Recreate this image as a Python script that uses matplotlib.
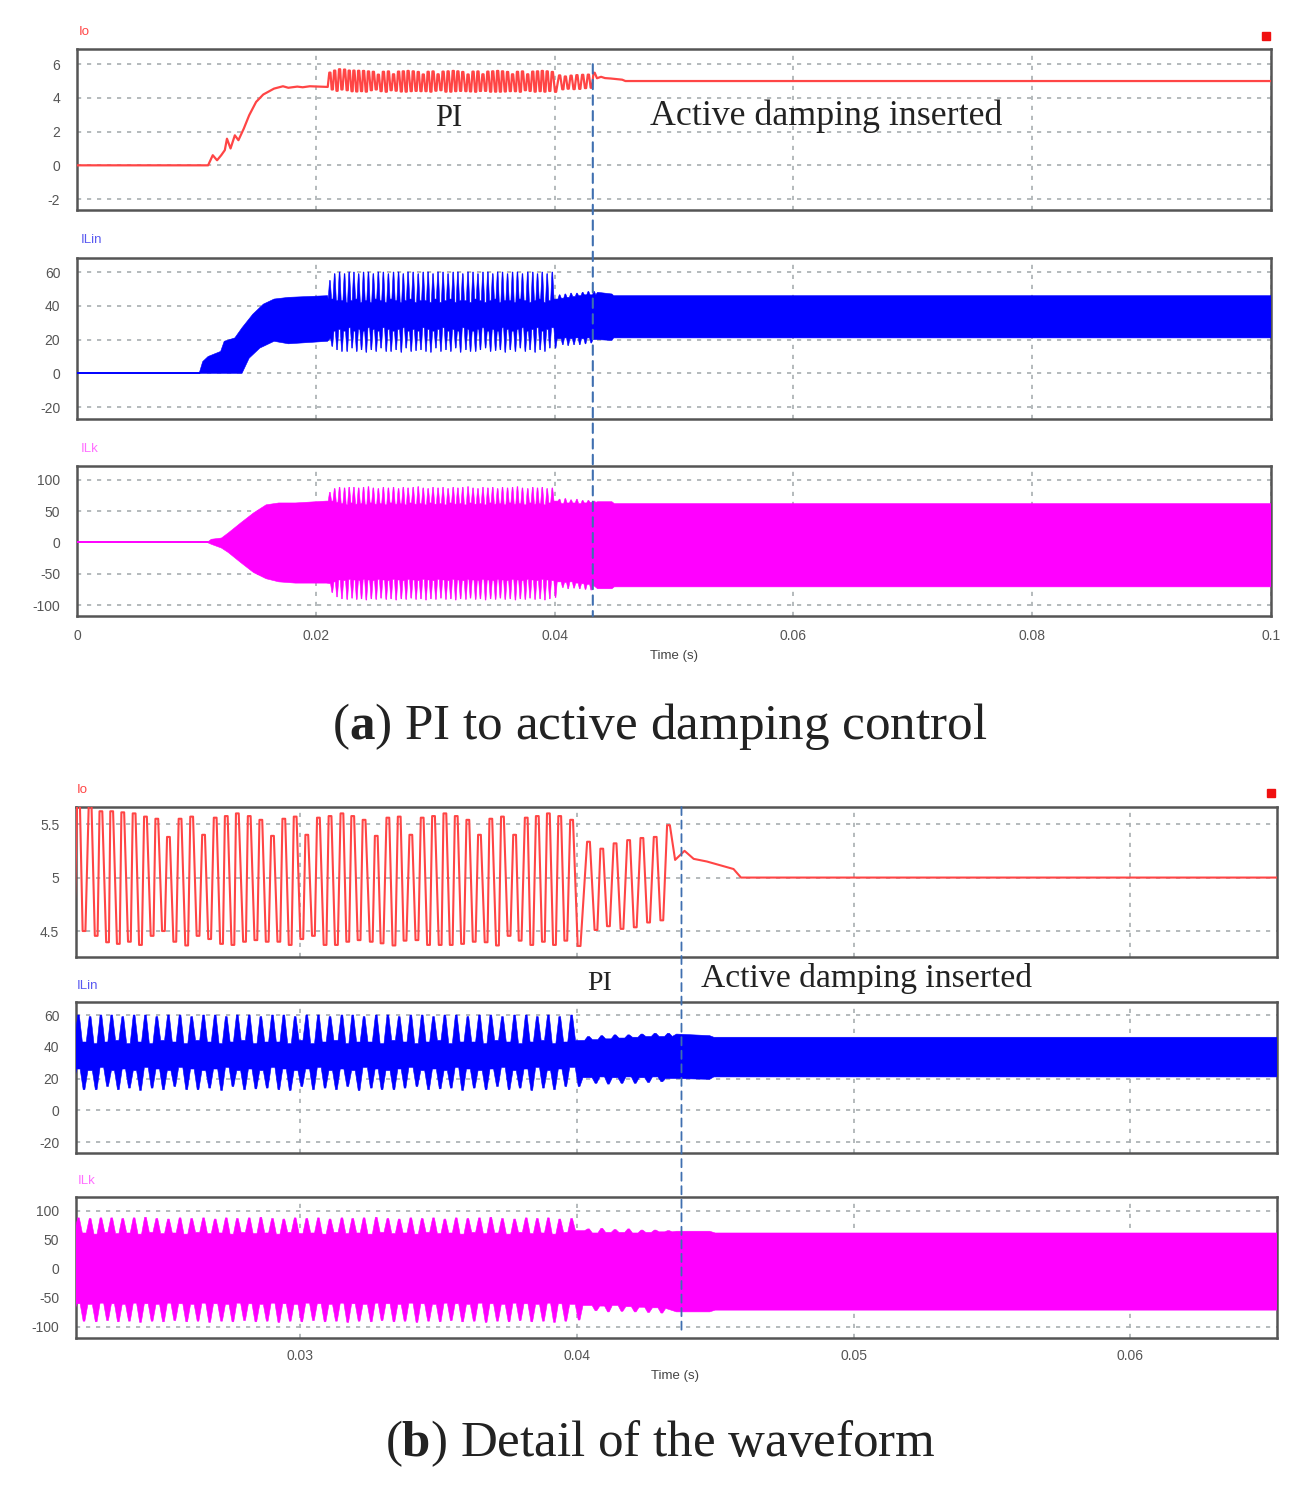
#!/usr/bin/env python3
"""PI to active damping waveforms, two PSIM style scope panels"""
import numpy as np
import matplotlib; matplotlib.use('Agg')
import matplotlib.pyplot as plt
from matplotlib.patches import ConnectionPatch, Rectangle

plt.rcParams['font.family'] = ['Liberation Sans', 'DejaVu Sans']
plt.rcParams['mathtext.fontset'] = 'custom'
plt.rcParams['mathtext.bf'] = 'Liberation Serif:bold'
plt.rcParams['mathtext.rm'] = 'Liberation Serif'
plt.rcParams['axes.unicode_minus'] = False

W, H = 1308, 1486

# times in ms, one entry per ripple cycle of the PI section
t_peak = [21.18, 21.58,
          21.99, 22.41, 22.80, 23.19, 23.59, 24.00, 24.41, 24.82, 25.24, 25.66,
          26.08, 26.51, 26.93, 27.33, 27.73, 28.16, 28.58, 29.00, 29.41, 29.82,
          30.24, 30.66, 31.08, 31.51, 31.90, 32.31, 32.75, 33.17, 33.58,
          34.00, 34.41, 34.82, 35.23, 35.64, 36.06, 36.48, 36.89, 37.31, 37.75,
          38.17, 38.57, 38.97, 39.38, 39.81,
          40.42, 40.90, 41.38, 41.87, 42.35, 42.83, 43.31]
t_trough = [21.38, 21.78,
            22.19, 22.63, 23.04, 23.43, 23.83, 24.23, 24.65, 25.06, 25.47, 25.90,
            26.31, 26.73, 27.16, 27.57, 27.99, 28.40, 28.81, 29.23, 29.64, 30.06,
            30.48, 30.90, 31.31, 31.72, 32.13, 32.57, 32.96, 33.39,
            33.79, 34.22, 34.64, 35.06, 35.46, 35.87, 36.29, 36.72, 37.13, 37.55,
            37.95, 38.37, 38.79, 39.19, 39.60, 40.08,
            40.69, 41.14, 41.63, 42.11, 42.59, 43.07]

# Io
io_peak = [5.50, 5.62,
           5.70, 5.68, 5.62, 5.62, 5.61, 5.60, 5.57, 5.55, 5.38, 5.55,
           5.57, 5.40, 5.56, 5.575, 5.60, 5.575, 5.54, 5.39, 5.55, 5.57,
           5.40, 5.56, 5.575, 5.60, 5.575, 5.54, 5.39, 5.56, 5.57,
           5.40, 5.56, 5.575, 5.60, 5.575, 5.54, 5.40, 5.55, 5.57, 5.40,
           5.56, 5.575, 5.60, 5.575, 5.54,
           5.335, 5.27, 5.32, 5.35, 5.37, 5.38, 5.49]
io_trough = [4.50, 4.42,
             4.50, 4.455, 4.395, 4.38, 4.40, 4.37, 4.455, 4.50, 4.40, 4.365,
             4.455, 4.425, 4.38, 4.37, 4.40, 4.415, 4.40, 4.40, 4.37, 4.425,
             4.455, 4.37, 4.37, 4.40, 4.415, 4.40, 4.385, 4.365,
             4.41, 4.415, 4.37, 4.37, 4.37, 4.38, 4.40, 4.395, 4.365, 4.455,
             4.41, 4.37, 4.40, 4.37, 4.41, 4.36,
             4.51, 4.545, 4.52, 4.535, 4.58, 4.60]
io_start_t = [0, 10.98, 11.37, 11.73, 12.08, 12.38, 12.56, 12.86, 13.22, 13.52,
              13.97, 14.42, 15.0, 15.6, 16.5, 17.25, 17.7, 18.45, 18.9, 19.5, 21.0]
io_start = [0, 0, 0.6, 0.3, 0.6, 0.9, 1.58, 1.0, 1.78, 1.49,
            2.18, 2.97, 3.76, 4.2, 4.55, 4.69, 4.6, 4.67, 4.63, 4.69, 4.65]
io_tail_t = [43.55, 43.89, 44.22, 44.70, 45.66, 45.93, 100]
io_tail = [5.165, 5.25, 5.175, 5.15, 5.08, 5.0, 5.0]

# ILin envelope
lin_hi_spike = [55, 59,
                60, 59, 60, 60, 59, 60, 60, 59, 60, 60,
                59, 60, 60, 59, 60, 60, 59, 60, 60, 59,
                60, 60, 59, 60, 60, 59, 60, 60, 59,
                60, 60, 59, 60, 60, 59, 60, 60, 59, 60,
                60, 59, 60, 59, 60,
                46.5, 47, 47.5, 47.5, 48, 48.5, 48.5]
lin_hi_valley = [44, 43,
                 43, 42, 43, 44, 42, 43, 42, 44, 43, 42,
                 44, 43, 42, 43, 44, 42, 43, 43, 42, 44,
                 42, 43, 44, 42, 43, 43, 42, 44,
                 43, 42, 43, 44, 42, 43, 43, 42, 44, 43,
                 42, 43, 44, 42, 43, 44,
                 44.5, 45, 45.5, 46, 46.5, 46.5]
lin_lo_spike = [16, 14,
                13, 13, 15, 13, 14, 12.5, 14, 13, 15, 13,
                13, 14, 12.5, 15, 13, 13.5, 14, 13, 12.5, 15,
                13, 14, 13, 15, 12.5, 14, 13, 13,
                14, 15, 13, 13.5, 14, 12.5, 14, 13, 15, 13,
                14, 12.5, 14, 13, 15, 15,
                17, 16.5, 17, 17, 17.5, 18]
lin_lo_valley = [21, 25,
                 26, 25, 27, 25, 26, 25, 27, 26, 25, 27,
                 26, 25, 26, 27, 25, 26, 25, 27, 26, 25,
                 26, 27, 25, 26, 25, 27, 26, 25, 26,
                 27, 25, 26, 25, 27, 26, 25, 26, 27, 25,
                 26, 27, 25, 26, 27,
                 20.5, 21, 20.5, 21, 20.5, 21, 20]
lin_start_t_hi = [10.23, 10.53, 10.98, 12.03, 12.33, 13.22, 13.82, 14.72, 15.61,
                  16.51, 17.71, 20.99]
lin_start_hi = [0, 7, 10, 13, 19, 21, 27, 35, 41, 44, 45, 46]
lin_start_t_lo = [10.23, 13.82, 14.42, 15.32, 16.51, 17.71, 20.99]
lin_start_lo = [0, 0, 9, 15, 19, 17.5, 19]
lin_tail_t = [43.6, 44.8, 44.95, 100]
lin_tail_hi = [48, 47, 46, 46]
lin_tail_lo = [20, 19.5, 21, 21]

# ILk envelope
ilk_hi_spike = [80, 86,
                88, 87, 88, 88, 87, 88, 89, 87, 86, 88,
                87, 88, 86, 88, 87, 88, 89, 87, 86, 88,
                87, 88, 86, 88, 87, 88, 89, 87, 86,
                88, 87, 88, 86, 88, 87, 88, 89, 87, 86,
                88, 87, 88, 86, 87,
                69, 70, 68, 69, 67, 67, 66]
ilk_hi_valley = [66, 64,
                 62, 60, 63, 61, 62, 60, 63, 61, 62, 60,
                 63, 61, 62, 60, 63, 61, 62, 60, 63, 61,
                 62, 60, 63, 61, 62, 60, 63, 61,
                 62, 60, 63, 61, 62, 60, 63, 61, 62, 60,
                 63, 61, 62, 60, 63, 66,
                 62, 63, 63, 62, 63, 64]
ilk_lo_spike = [-80, -87,
                -90, -91, -89, -91, -90, -92, -90, -91, -89, -91,
                -90, -92, -90, -91, -89, -91, -90, -92, -90, -91,
                -89, -91, -90, -92, -90, -91, -89, -91,
                -90, -92, -90, -91, -89, -91, -90, -92, -90, -91,
                -89, -91, -90, -92, -90, -88,
                -72, -74, -73, -74, -75, -76]
ilk_lo_valley = [-66, -63,
                 -60, -61, -59, -60, -61, -59, -60, -61, -59, -60,
                 -61, -59, -60, -61, -59, -60, -61, -59, -60, -61,
                 -59, -60, -61, -59, -60, -61, -59, -60, -61,
                 -59, -60, -61, -59, -60, -61, -59, -60, -61, -59,
                 -60, -61, -59, -60, -61,
                 -63, -64, -63, -65, -66, -67, -68]
ilk_start_t_hi = [10.9, 11.25, 12.1, 12.66, 13.7, 14.78, 15.84, 16.9, 18.3, 20.9]
ilk_start_hi = [0, 5, 7, 15, 31, 47, 60, 63, 63, 66]
ilk_start_t_lo = [10.9, 11.25, 12.1, 12.66, 13.7, 14.78, 15.84, 16.9, 18.3, 20.9]
ilk_start_lo = [0, -3, -9, -16, -32, -48, -58, -63, -65, -65]
ilk_tail_t = [43.6, 44.8, 45.0, 100]
ilk_tail_hi = [65, 65, 62, 62]
ilk_tail_lo = [-74, -74, -71, -71]

# tick values
a_xticks = [0, 20, 40, 60, 80, 100]
a_xlabels = ['0', '0.02', '0.04', '0.06', '0.08', '0.1']
b_xticks = [30, 40, 50, 60]
b_xlabels = ['0.03', '0.04', '0.05', '0.06']
io_a_ticks = [-2, 0, 2, 4, 6]
lin_ticks = [-20, 0, 20, 40, 60]
ilk_ticks = [-100, -50, 0, 50, 100]
io_b_ticks = [4.5, 5, 5.5]
io_b_labels = ['4.5', '5', '5.5']

RED, BLUE, PINK = '#ff4545', '#0000ff', '#ff00ff'
GRID = '#a8aeb0'
TIP = 0.03    # half width of a spike tip, ms
RAMP = 0.14   # spike foot distance, ms
FLAT = 0.05   # half width of a rounded Io crest, ms


def weave(peaks, troughs):
    out = np.empty(len(peaks) + len(troughs))
    out[0::2] = peaks
    out[1::2] = troughs
    return out


def comb(centres, spikes, before, after):
    ts, vs = [], []
    for c, s, b, a in zip(centres, spikes, before, after):
        ts += [c - RAMP, c - TIP, c + TIP, c + RAMP]
        vs += [b, s, s, a]
    return ts, vs


def make_ax(fig, left, top, right, bottom, xlim, ylim, xticks, yticks, ylabels=None):
    ax = fig.add_axes([left / W, 1 - bottom / H, (right - left) / W, (bottom - top) / H])
    ax.set_xlim(xlim); ax.set_ylim(ylim)
    ax.set_xticks(xticks); ax.set_yticks(yticks)
    if ylabels:
        ax.set_yticklabels(ylabels)
    ax.set_axisbelow(True)
    ax.grid(True, color=GRID, lw=1.2, ls=(0, (2.5, 3.5)))
    ax.tick_params(length=0, labelsize=10, colors='#555555', pad=12, axis='y')
    ax.tick_params(length=0, labelbottom=False, axis='x')
    for s in ax.spines.values():
        s.set_color('#555555'); s.set_linewidth(1.8)
    return ax


def draw_env(ax, hi_s, hi_v, lo_v, lo_s, st_hi, st_lo, tail, c):
    """filled envelope: startup, ripple teeth, steady tail"""
    ut, uv = comb(t_peak, hi_s, [hi_v[0]] + hi_v, hi_v + [hi_v[-1]])
    lt, lv = comb(t_trough, lo_s, lo_v[:-1], lo_v[1:])
    up_t = np.concatenate([st_hi[0], ut, tail[0]])
    up = np.concatenate([st_hi[1], uv, tail[1]])
    dn_t = np.concatenate([st_lo[0], lt, tail[0]])
    dn = np.concatenate([st_lo[1], lv, tail[2]])
    ax.fill(np.concatenate([up_t, dn_t[::-1]]), np.concatenate([up, dn[::-1]]),
            color=c, lw=0.4, zorder=3)
    ax.plot([0, st_hi[0][0]], [0, 0], color=c, lw=1.4, zorder=3)


t_cyc = weave(t_peak, t_trough)
io_cyc = weave(io_peak, io_trough)
# each extreme is held a moment, the trace is round at its crests
io_t = np.concatenate([io_start_t, np.column_stack([t_cyc - FLAT, t_cyc + FLAT]).ravel(), io_tail_t])
io_v = np.concatenate([io_start, np.repeat(io_cyc, 2), io_tail])

lin_args = (lin_hi_spike, lin_hi_valley, lin_lo_valley, lin_lo_spike,
            (lin_start_t_hi, lin_start_hi), (lin_start_t_lo, lin_start_lo),
            (lin_tail_t, lin_tail_hi, lin_tail_lo), BLUE)
ilk_args = (ilk_hi_spike, ilk_hi_valley, ilk_lo_valley, ilk_lo_spike,
            (ilk_start_t_hi, ilk_start_hi), (ilk_start_t_lo, ilk_start_lo),
            (ilk_tail_t, ilk_tail_hi, ilk_tail_lo), PINK)

fig = plt.figure(figsize=(W / 100, H / 100), dpi=100)


def ftext(x, y, s, **kw):
    kw.setdefault('ha', 'center'); kw.setdefault('va', 'center')
    return fig.text(x / W, 1 - y / H, s, **kw)


# (a)
xa = (0, 100)
a1 = make_ax(fig, 77, 49, 1271, 210, xa, (-2.65, 6.9), a_xticks, io_a_ticks)
a1.plot(io_t, io_v, color=RED, lw=1.6, zorder=3)
a2 = make_ax(fig, 77, 258, 1271, 419, xa, (-27, 68.3), a_xticks, lin_ticks)
draw_env(a2, *lin_args)
a3 = make_ax(fig, 77, 466, 1271, 616, xa, (-117.5, 122), a_xticks, ilk_ticks)
draw_env(a3, *ilk_args)
a3.tick_params(labelbottom=True, labelsize=10, colors='#555555', axis='x', pad=9)
a3.set_xticklabels(a_xlabels)

# (b)
xb = (21.9, 65.3)
b1 = make_ax(fig, 76, 807, 1277, 957, xb, (4.257, 5.66), b_xticks, io_b_ticks, io_b_labels)
b1.plot(io_t, io_v, color=RED, lw=1.5, zorder=3)
b2 = make_ax(fig, 76, 1002, 1277, 1153, xb, (-26.9, 68.2), b_xticks, lin_ticks)
draw_env(b2, *lin_args)
b3 = make_ax(fig, 76, 1197, 1277, 1338, xb, (-119, 124), b_xticks, ilk_ticks)
draw_env(b3, *ilk_args)
b3.tick_params(labelbottom=True, labelsize=10, colors='#555555', axis='x', pad=8)
b3.set_xticklabels(b_xlabels)

# switching instant markers
fig.add_artist(ConnectionPatch((43.2, 6.0), (43.2, -117.5), 'data', 'data', axesA=a1, axesB=a3,
                               color='#3f6fb0', lw=1.5, ls=(0, (4.5, 3)), zorder=5))
fig.add_artist(ConnectionPatch((43.78, 5.66), (43.78, -110), 'data', 'data', axesA=b1, axesB=b3,
                               color='#3f6fb0', lw=1.3, ls=(0, (4.5, 3)), zorder=5))

# trace names
for x, y, s, c in [(84, 32, 'Io', RED), (91, 240, 'ILin', '#5a5af0'), (90, 449, 'ILk', '#ff70ff'),
                   (82, 790, 'Io', RED), (88, 986, 'ILin', '#5a5af0'), (87, 1181, 'ILk', '#ff70ff')]:
    ftext(x, y, s, color=c, fontsize=9.5)

# small scope markers
fig.add_artist(Rectangle((1262 / W, 1 - 40 / H), 8 / W, 8 / H, color='#f01010', transform=fig.transFigure))
fig.add_artist(Rectangle((1267 / W, 1 - 797 / H), 8 / W, 8 / H, color='#f01010', transform=fig.transFigure))

ftext(674, 656, 'Time (s)', color='#444444', fontsize=9.5)
ftext(675, 1376, 'Time (s)', color='#444444', fontsize=9.5)

serif = ['Liberation Serif', 'DejaVu Serif']
ftext(449, 118, 'PI', family=serif, fontsize=22, color='#222222')
ftext(826, 116, 'Active damping inserted', family=serif, fontsize=25.8, color='#222222')
ftext(600, 983, 'PI', family=serif, fontsize=20, color='#222222')
ftext(867, 978, 'Active damping inserted', family=serif, fontsize=24.2, color='#222222')

ftext(660, 726, r'($\mathbf{a}$) PI to active damping control', family=serif, fontsize=36.8, color='#222222')
ftext(660, 1444, r'($\mathbf{b}$) Detail of the waveform', family=serif, fontsize=36.7, color='#222222')

fig.savefig('out.png', dpi=100)
